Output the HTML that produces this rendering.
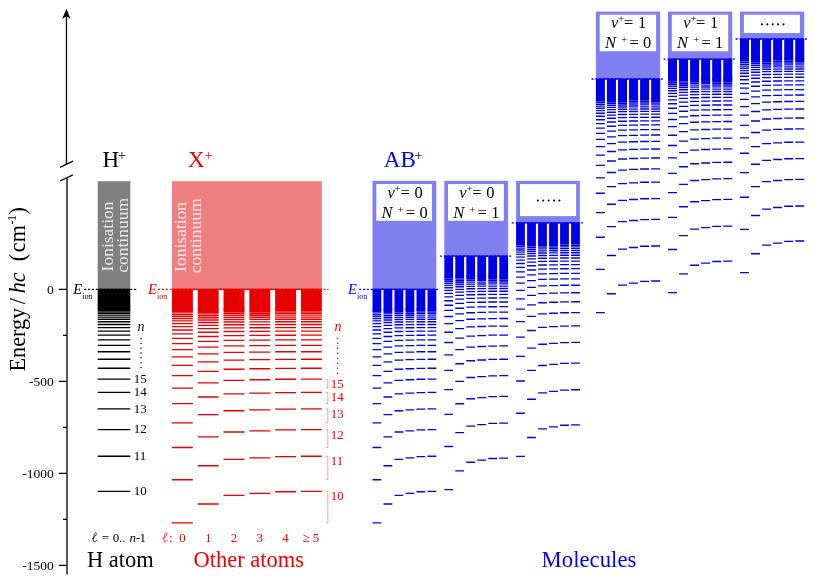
<!DOCTYPE html>
<html><head><meta charset="utf-8"><title>Rydberg level diagram</title>
<style>
html,body{margin:0;padding:0;background:#fff;}
body{width:814px;height:582px;overflow:hidden;font-family:"Liberation Serif",serif;}
svg{display:block;will-change:transform;}
text{font-family:"Liberation Serif",serif;}
.i{font-style:italic;}
</style></head><body>
<svg width="814" height="582" viewBox="0 0 814 582">
<rect x="0" y="0" width="814" height="582" fill="#fff"/>
<g>
<g stroke="#000" stroke-width="1.3" fill="none">
<path d="M66.45 16V164M67 178.2V574.6"/>
<path d="M60 167.3L73 161.2M60 181L73 174.9"/>
<path d="M58.8 289.4H67M58.8 381.4H67M58.8 473.4H67M58.8 565.4H67M63 335.4H67M63 427.4H67M63 519.4H67"/>
</g>
<path d="M66.45 8.8L70.5 19.1L66.45 16.3L62.2 19.1Z" fill="#000"/>
<g font-size="13.5" text-anchor="end" fill="#000">
<text x="53.8" y="293.7">0</text>
<text x="53.8" y="385.7">-500</text>
<text x="53.8" y="477.7">-1000</text>
<text x="53.8" y="569.7">-1500</text>
</g>
<text transform="translate(24.7 371.5) rotate(-90)" font-size="22.2" fill="#000"><tspan x="0">Energy</tspan><tspan x="67.2">/</tspan><tspan class="i" x="78.2">hc</tspan><tspan x="110.3">(</tspan><tspan x="119.3">cm</tspan><tspan font-size="12" dy="-8.4" x="147">-</tspan><tspan font-size="12" x="150.4">1</tspan><tspan dy="8.4" x="157">)</tspan></text>
<rect x="97.7" y="181.2" width="32.6" height="108.2" fill="#808080"/>
<g fill="#000"><rect x="97.7" y="288.72" width="32.6" height="21.07"/></g>
<path d="M97.7 491.32h32.6M97.7 456.27h32.6M97.7 429.62h32.6M97.7 408.88h32.6M97.7 392.42h32.6M97.7 379.14h32.6M97.7 368.27h32.6M97.7 359.27h32.6M97.7 351.72h32.6M97.7 345.33h32.6M97.7 339.88h32.6M97.7 335.19h32.6M97.7 331.12h32.6M97.7 327.57h32.6M97.7 324.45h32.6M97.7 321.71h32.6M97.7 319.27h32.6M97.7 317.1h32.6M97.7 315.15h32.6M97.7 313.41h32.6M97.7 311.84h32.6M97.7 310.41h32.6M97.7 309.12h32.6" stroke="#000" stroke-width="1.35" fill="none"/>
<text x="73.2" y="293.8" font-size="14.5" class="i" fill="#000">E</text>
<text x="82.2" y="299" font-size="8.2" fill="#000">ion</text>
<g font-size="13" fill="#000">
<text x="133.8" y="495.02">10</text>
<text x="133.8" y="459.97">11</text>
<text x="133.8" y="433.32">12</text>
<text x="133.8" y="412.58">13</text>
<text x="133.8" y="396.12">14</text>
<text x="133.8" y="382.84">15</text>
<text x="137.6" y="331" class="i" font-size="14">n</text>
</g>
<path d="M141 338.6V368.5" stroke="#000" stroke-width="1.5" stroke-linecap="round" stroke-dasharray="0.01 4.8" fill="none"/>
<text y="167.3" font-size="23" fill="#000"><tspan x="102.4">H</tspan><tspan font-size="14" dy="-7.6" x="118">+</tspan></text>
<text x="86.9" y="567" font-size="22.5" fill="#000">H atom</text>
<path transform="translate(91.8 541.9)" d="M0.2,-3.2C2.6,-4.2 5,-7.2 4.6,-8.6C4.3,-9.6 3.2,-9.2 2.6,-7.6C1.8,-5.4 1.2,-2.4 1.6,-0.9C2,0.5 3.8,0 5.2,-1.8" stroke="#000" stroke-width="0.75" fill="none"/>
<text y="541.7" font-size="13" fill="#000"><tspan x="101.8">=</tspan><tspan x="112.7">0</tspan><tspan x="119.1">..</tspan><tspan x="129.6" class="i">n</tspan><tspan x="136">-</tspan><tspan x="139.5">1</tspan></text>
<g font-size="17.5" fill="#fff" fill-opacity="0.8">
<text transform="translate(113.4 271.4) rotate(-90)">Ionisation</text>
<text transform="translate(128.3 272.8) rotate(-90)">continuum</text>
</g>
<rect x="171.95" y="181.2" width="149.9" height="108.2" fill="#f08080"/>
<g fill="#e60000"><rect x="192.65" y="288.65" width="5.3" height="1.3"/><rect x="171.95" y="288.72" width="20.9" height="21.96"/><rect x="218.45" y="288.65" width="5.3" height="1.3"/><rect x="197.75" y="288.72" width="20.9" height="21.44"/><rect x="244.25" y="288.65" width="5.3" height="1.3"/><rect x="223.55" y="288.72" width="20.9" height="21.19"/><rect x="270.05" y="288.65" width="5.3" height="1.3"/><rect x="249.35" y="288.72" width="20.9" height="21.13"/><rect x="295.85" y="288.65" width="5.3" height="1.3"/><rect x="275.15" y="288.72" width="20.9" height="21.08"/><rect x="300.95" y="288.72" width="20.9" height="21.07"/></g>
<path d="M171.95 522.86h20.9M171.95 479.73h20.9M171.95 447.53h20.9M171.95 422.86h20.9M171.95 403.55h20.9M171.95 388.14h20.9M171.95 375.66h20.9M171.95 365.4h20.9M171.95 356.87h20.9M171.95 349.69h20.9M171.95 343.61h20.9M171.95 338.4h20.9M171.95 333.91h20.9M171.95 330h20.9M171.95 326.59h20.9M171.95 323.59h20.9M171.95 320.94h20.9M171.95 318.59h20.9M171.95 316.49h20.9M171.95 314.61h20.9M171.95 312.92h20.9M171.95 311.39h20.9M171.95 310.01h20.9M197.75 504h20.9M197.75 465.76h20.9M197.75 436.9h20.9M197.75 414.59h20.9M197.75 396.98h20.9M197.75 382.84h20.9M197.75 371.32h20.9M197.75 361.8h20.9M197.75 353.85h20.9M197.75 347.14h20.9M197.75 341.43h20.9M197.75 336.52h20.9M197.75 332.28h20.9M197.75 328.58h20.9M197.75 325.35h20.9M197.75 322.5h20.9M197.75 319.97h20.9M197.75 317.72h20.9M197.75 315.72h20.9M197.75 313.91h20.9M197.75 312.29h20.9M197.75 310.82h20.9M197.75 309.49h20.9M223.55 495.42h20.9M223.55 459.35h20.9M223.55 431.99h20.9M223.55 410.74h20.9M223.55 393.91h20.9M223.55 380.35h20.9M223.55 369.27h20.9M223.55 360.1h20.9M223.55 352.42h20.9M223.55 345.93h20.9M223.55 340.39h20.9M223.55 335.63h20.9M223.55 331.5h20.9M223.55 327.9h20.9M223.55 324.75h20.9M223.55 321.97h20.9M223.55 319.5h20.9M223.55 317.3h20.9M223.55 315.34h20.9M223.55 313.58h20.9M223.55 311.99h20.9M223.55 310.55h20.9M223.55 309.24h20.9M249.35 493.35h20.9M249.35 457.8h20.9M249.35 430.8h20.9M249.35 409.8h20.9M249.35 393.16h20.9M249.35 379.74h20.9M249.35 368.77h20.9M249.35 359.68h20.9M249.35 352.07h20.9M249.35 345.63h20.9M249.35 340.13h20.9M249.35 335.4h20.9M249.35 331.31h20.9M249.35 327.74h20.9M249.35 324.6h20.9M249.35 321.84h20.9M249.35 319.38h20.9M249.35 317.2h20.9M249.35 315.25h20.9M249.35 313.49h20.9M249.35 311.91h20.9M249.35 310.48h20.9M249.35 309.18h20.9M275.15 491.72h20.9M275.15 456.58h20.9M275.15 429.85h20.9M275.15 409.06h20.9M275.15 392.57h20.9M275.15 379.26h20.9M275.15 368.37h20.9M275.15 359.35h20.9M275.15 351.79h20.9M275.15 345.39h20.9M275.15 339.93h20.9M275.15 335.23h20.9M275.15 331.16h20.9M275.15 327.6h20.9M275.15 324.48h20.9M275.15 321.73h20.9M275.15 319.29h20.9M275.15 317.12h20.9M275.15 315.17h20.9M275.15 313.43h20.9M275.15 311.85h20.9M275.15 310.42h20.9M275.15 309.13h20.9M300.95 491.32h20.9M300.95 456.27h20.9M300.95 429.62h20.9M300.95 408.88h20.9M300.95 392.42h20.9M300.95 379.14h20.9M300.95 368.27h20.9M300.95 359.27h20.9M300.95 351.72h20.9M300.95 345.33h20.9M300.95 339.88h20.9M300.95 335.19h20.9M300.95 331.12h20.9M300.95 327.57h20.9M300.95 324.45h20.9M300.95 321.71h20.9M300.95 319.27h20.9M300.95 317.1h20.9M300.95 315.15h20.9M300.95 313.41h20.9M300.95 311.84h20.9M300.95 310.41h20.9M300.95 309.12h20.9" stroke="#e60000" stroke-width="1.35" fill="none"/>
<text x="147.9" y="293.8" font-size="14.5" class="i" fill="#e60000">E</text>
<text x="156.9" y="299" font-size="8.2" fill="#e60000">ion</text>
<g font-size="13" fill="#e60000">
<text x="330.8" y="500.32">10</text>
<text x="330.8" y="465.27">11</text>
<text x="330.8" y="438.62">12</text>
<text x="330.8" y="417.88">13</text>
<text x="330.8" y="401.42">14</text>
<text x="330.8" y="388.14">15</text>
<text x="334.6" y="331" class="i" font-size="14">n</text>
</g>
<path d="M325.6 491.32H327.8V522.86H325.6M325.6 456.27H327.8V479.73H325.6M325.6 429.62H327.8V447.53H325.6M325.6 408.88H327.8V422.86H325.6M325.6 392.42H327.8V403.55H325.6M325.6 379.14H327.8V388.14H325.6" stroke="#e60000" stroke-opacity="0.6" stroke-width="0.6" fill="none"/>
<path d="M337.6 338.3V374" stroke="#e60000" stroke-width="1.5" stroke-linecap="round" stroke-dasharray="0.01 5" fill="none"/>
<text y="167.3" font-size="23" fill="#e60000"><tspan x="187.9">X</tspan><tspan font-size="14" dy="-7.6" x="204.8">+</tspan></text>
<text x="193.5" y="567" font-size="22.5" fill="#e60000">Other atoms</text>
<path transform="translate(162.4 541.9)" d="M0.2,-3.2C2.6,-4.2 5,-7.2 4.6,-8.6C4.3,-9.6 3.2,-9.2 2.6,-7.6C1.8,-5.4 1.2,-2.4 1.6,-0.9C2,0.5 3.8,0 5.2,-1.8" stroke="#e60000" stroke-width="0.75" fill="none"/>
<g font-size="13" fill="#e60000" text-anchor="middle">
<text x="170.7" y="541.7">:</text>
<text x="182.4" y="541.7">0</text>
<text x="208.2" y="541.7">1</text>
<text x="234" y="541.7">2</text>
<text x="259.8" y="541.7">3</text>
<text x="285.6" y="541.7">4</text>
<text x="310.9" y="541.7">&#8805; 5</text>
</g>
<g font-size="17.5" fill="#fff" fill-opacity="0.8">
<text transform="translate(186.1 271.9) rotate(-90)">Ionisation</text>
<text transform="translate(201.4 273.3) rotate(-90)">continuum</text>
</g>
<rect x="372.5" y="180.85" width="63.8" height="108.55" fill="#8080f0"/>
<rect x="376.3" y="184.05" width="55.6" height="36.75" fill="#fff"/>
<g font-size="16.5" fill="#000">
<text y="197.9"><tspan class="i" x="387.5">v</tspan><tspan font-size="11" dy="-5.6" x="394.5">+</tspan><tspan dy="5.6" x="400.4">=</tspan><tspan x="414.4">0</tspan></text>
<text y="218.1"><tspan class="i" x="381.4">N</tspan><tspan font-size="11" dy="-5.2" x="397.5">+</tspan><tspan dy="5.2" x="405.8">=</tspan><tspan x="419.4">0</tspan></text>
</g>
<rect x="444.3" y="180.85" width="63.8" height="75.35" fill="#8080f0"/>
<rect x="448" y="184.05" width="55.85" height="36.75" fill="#fff"/>
<g font-size="16.5" fill="#000">
<text y="197.9"><tspan class="i" x="459.3">v</tspan><tspan font-size="11" dy="-5.6" x="466.3">+</tspan><tspan dy="5.6" x="472.2">=</tspan><tspan x="486.2">0</tspan></text>
<text y="218.1"><tspan class="i" x="453.2">N</tspan><tspan font-size="11" dy="-5.2" x="469.3">+</tspan><tspan dy="5.2" x="477.6">=</tspan><tspan x="491.2">1</tspan></text>
</g>
<rect x="516.1" y="180.85" width="63.8" height="42.05" fill="#8080f0"/>
<rect x="520" y="184.05" width="56.1" height="32.05" fill="#fff"/>
<g fill="#000"><circle cx="537.8" cy="200.57" r="1.05"/><circle cx="543.2" cy="200.57" r="1.05"/><circle cx="548.6" cy="200.57" r="1.05"/><circle cx="554" cy="200.57" r="1.05"/><circle cx="559.4" cy="200.57" r="1.05"/></g>
<rect x="595.9" y="11.6" width="64.25" height="67.5" fill="#8080f0"/>
<rect x="599.7" y="14.7" width="56.4" height="36.5" fill="#fff"/>
<g font-size="16.5" fill="#000">
<text y="27.9"><tspan class="i" x="611.12">v</tspan><tspan font-size="11" dy="-5.6" x="618.12">+</tspan><tspan dy="5.6" x="624.02">=</tspan><tspan x="638.02">1</tspan></text>
<text y="48.1"><tspan class="i" x="605.02">N</tspan><tspan font-size="11" dy="-5.2" x="621.12">+</tspan><tspan dy="5.2" x="629.42">=</tspan><tspan x="643.02">0</tspan></text>
</g>
<rect x="668" y="11.6" width="64.25" height="47.6" fill="#8080f0"/>
<rect x="671.8" y="14.7" width="56.4" height="36.5" fill="#fff"/>
<g font-size="16.5" fill="#000">
<text y="27.9"><tspan class="i" x="683.23">v</tspan><tspan font-size="11" dy="-5.6" x="690.23">+</tspan><tspan dy="5.6" x="696.12">=</tspan><tspan x="710.12">1</tspan></text>
<text y="48.1"><tspan class="i" x="677.12">N</tspan><tspan font-size="11" dy="-5.2" x="693.23">+</tspan><tspan dy="5.2" x="701.52">=</tspan><tspan x="715.12">1</tspan></text>
</g>
<rect x="740" y="11.6" width="64.25" height="27.5" fill="#8080f0"/>
<rect x="743.9" y="14.7" width="56" height="18.3" fill="#fff"/>
<g fill="#000"><circle cx="761.93" cy="24.35" r="1.05"/><circle cx="767.33" cy="24.35" r="1.05"/><circle cx="772.73" cy="24.35" r="1.05"/><circle cx="778.12" cy="24.35" r="1.05"/><circle cx="783.52" cy="24.35" r="1.05"/></g>
<g fill="#0000e6"><rect x="372.5" y="288.72" width="8.8" height="21.96"/><rect x="381.1" y="288.65" width="2.6" height="1.3"/><rect x="383.5" y="288.72" width="8.8" height="21.44"/><rect x="392.1" y="288.65" width="2.6" height="1.3"/><rect x="394.5" y="288.72" width="8.8" height="21.19"/><rect x="403.1" y="288.65" width="2.6" height="1.3"/><rect x="405.5" y="288.72" width="8.8" height="21.13"/><rect x="414.1" y="288.65" width="2.6" height="1.3"/><rect x="416.5" y="288.72" width="8.8" height="21.08"/><rect x="425.1" y="288.65" width="2.6" height="1.3"/><rect x="427.5" y="288.72" width="8.8" height="21.07"/><rect x="444.3" y="255.52" width="8.8" height="21.96"/><rect x="452.9" y="255.45" width="2.6" height="1.3"/><rect x="455.3" y="255.52" width="8.8" height="21.44"/><rect x="463.9" y="255.45" width="2.6" height="1.3"/><rect x="466.3" y="255.52" width="8.8" height="21.19"/><rect x="474.9" y="255.45" width="2.6" height="1.3"/><rect x="477.3" y="255.52" width="8.8" height="21.13"/><rect x="485.9" y="255.45" width="2.6" height="1.3"/><rect x="488.3" y="255.52" width="8.8" height="21.08"/><rect x="496.9" y="255.45" width="2.6" height="1.3"/><rect x="499.3" y="255.52" width="8.8" height="21.07"/><rect x="516.1" y="222.22" width="8.8" height="21.96"/><rect x="524.7" y="222.15" width="2.6" height="1.3"/><rect x="527.1" y="222.22" width="8.8" height="21.44"/><rect x="535.7" y="222.15" width="2.6" height="1.3"/><rect x="538.1" y="222.22" width="8.8" height="21.19"/><rect x="546.7" y="222.15" width="2.6" height="1.3"/><rect x="549.1" y="222.22" width="8.8" height="21.13"/><rect x="557.7" y="222.15" width="2.6" height="1.3"/><rect x="560.1" y="222.22" width="8.8" height="21.08"/><rect x="568.7" y="222.15" width="2.6" height="1.3"/><rect x="571.1" y="222.22" width="8.8" height="21.07"/><rect x="595.9" y="78.42" width="9" height="21.96"/><rect x="604.7" y="78.35" width="2.45" height="1.3"/><rect x="606.95" y="78.42" width="9" height="21.44"/><rect x="615.75" y="78.35" width="2.45" height="1.3"/><rect x="618" y="78.42" width="9" height="21.19"/><rect x="626.8" y="78.35" width="2.45" height="1.3"/><rect x="629.05" y="78.42" width="9" height="21.13"/><rect x="637.85" y="78.35" width="2.45" height="1.3"/><rect x="640.1" y="78.42" width="9" height="21.08"/><rect x="648.9" y="78.35" width="2.45" height="1.3"/><rect x="651.15" y="78.42" width="9" height="21.07"/><rect x="668" y="58.53" width="9" height="21.96"/><rect x="676.8" y="58.45" width="2.45" height="1.3"/><rect x="679.05" y="58.53" width="9" height="21.44"/><rect x="687.85" y="58.45" width="2.45" height="1.3"/><rect x="690.1" y="58.53" width="9" height="21.19"/><rect x="698.9" y="58.45" width="2.45" height="1.3"/><rect x="701.15" y="58.53" width="9" height="21.13"/><rect x="709.95" y="58.45" width="2.45" height="1.3"/><rect x="712.2" y="58.53" width="9" height="21.08"/><rect x="721" y="58.45" width="2.45" height="1.3"/><rect x="723.25" y="58.53" width="9" height="21.07"/><rect x="740" y="38.43" width="9" height="21.96"/><rect x="748.8" y="38.35" width="2.45" height="1.3"/><rect x="751.05" y="38.43" width="9" height="21.44"/><rect x="759.85" y="38.35" width="2.45" height="1.3"/><rect x="762.1" y="38.43" width="9" height="21.19"/><rect x="770.9" y="38.35" width="2.45" height="1.3"/><rect x="773.15" y="38.43" width="9" height="21.13"/><rect x="781.95" y="38.35" width="2.45" height="1.3"/><rect x="784.2" y="38.43" width="9" height="21.08"/><rect x="793" y="38.35" width="2.45" height="1.3"/><rect x="795.25" y="38.43" width="9" height="21.07"/></g>
<path d="M372.5 522.86h8.8M372.5 479.73h8.8M372.5 447.53h8.8M372.5 422.86h8.8M372.5 403.55h8.8M372.5 388.14h8.8M372.5 375.66h8.8M372.5 365.4h8.8M372.5 356.87h8.8M372.5 349.69h8.8M372.5 343.61h8.8M372.5 338.4h8.8M372.5 333.91h8.8M372.5 330h8.8M372.5 326.59h8.8M372.5 323.59h8.8M372.5 320.94h8.8M372.5 318.59h8.8M372.5 316.49h8.8M372.5 314.61h8.8M372.5 312.92h8.8M372.5 311.39h8.8M372.5 310.01h8.8M383.5 504h8.8M383.5 465.76h8.8M383.5 436.9h8.8M383.5 414.59h8.8M383.5 396.98h8.8M383.5 382.84h8.8M383.5 371.32h8.8M383.5 361.8h8.8M383.5 353.85h8.8M383.5 347.14h8.8M383.5 341.43h8.8M383.5 336.52h8.8M383.5 332.28h8.8M383.5 328.58h8.8M383.5 325.35h8.8M383.5 322.5h8.8M383.5 319.97h8.8M383.5 317.72h8.8M383.5 315.72h8.8M383.5 313.91h8.8M383.5 312.29h8.8M383.5 310.82h8.8M383.5 309.49h8.8M394.5 495.42h8.8M394.5 459.35h8.8M394.5 431.99h8.8M394.5 410.74h8.8M394.5 393.91h8.8M394.5 380.35h8.8M394.5 369.27h8.8M394.5 360.1h8.8M394.5 352.42h8.8M394.5 345.93h8.8M394.5 340.39h8.8M394.5 335.63h8.8M394.5 331.5h8.8M394.5 327.9h8.8M394.5 324.75h8.8M394.5 321.97h8.8M394.5 319.5h8.8M394.5 317.3h8.8M394.5 315.34h8.8M394.5 313.58h8.8M394.5 311.99h8.8M394.5 310.55h8.8M394.5 309.24h8.8M405.5 493.35h8.8M405.5 457.8h8.8M405.5 430.8h8.8M405.5 409.8h8.8M405.5 393.16h8.8M405.5 379.74h8.8M405.5 368.77h8.8M405.5 359.68h8.8M405.5 352.07h8.8M405.5 345.63h8.8M405.5 340.13h8.8M405.5 335.4h8.8M405.5 331.31h8.8M405.5 327.74h8.8M405.5 324.6h8.8M405.5 321.84h8.8M405.5 319.38h8.8M405.5 317.2h8.8M405.5 315.25h8.8M405.5 313.49h8.8M405.5 311.91h8.8M405.5 310.48h8.8M405.5 309.18h8.8M416.5 491.72h8.8M416.5 456.58h8.8M416.5 429.85h8.8M416.5 409.06h8.8M416.5 392.57h8.8M416.5 379.26h8.8M416.5 368.37h8.8M416.5 359.35h8.8M416.5 351.79h8.8M416.5 345.39h8.8M416.5 339.93h8.8M416.5 335.23h8.8M416.5 331.16h8.8M416.5 327.6h8.8M416.5 324.48h8.8M416.5 321.73h8.8M416.5 319.29h8.8M416.5 317.12h8.8M416.5 315.17h8.8M416.5 313.43h8.8M416.5 311.85h8.8M416.5 310.42h8.8M416.5 309.13h8.8M427.5 491.32h8.8M427.5 456.27h8.8M427.5 429.62h8.8M427.5 408.88h8.8M427.5 392.42h8.8M427.5 379.14h8.8M427.5 368.27h8.8M427.5 359.27h8.8M427.5 351.72h8.8M427.5 345.33h8.8M427.5 339.88h8.8M427.5 335.19h8.8M427.5 331.12h8.8M427.5 327.57h8.8M427.5 324.45h8.8M427.5 321.71h8.8M427.5 319.27h8.8M427.5 317.1h8.8M427.5 315.15h8.8M427.5 313.41h8.8M427.5 311.84h8.8M427.5 310.41h8.8M427.5 309.12h8.8M444.3 489.66h8.8M444.3 446.53h8.8M444.3 414.33h8.8M444.3 389.66h8.8M444.3 370.35h8.8M444.3 354.94h8.8M444.3 342.46h8.8M444.3 332.2h8.8M444.3 323.67h8.8M444.3 316.49h8.8M444.3 310.41h8.8M444.3 305.2h8.8M444.3 300.71h8.8M444.3 296.8h8.8M444.3 293.39h8.8M444.3 290.39h8.8M444.3 287.74h8.8M444.3 285.39h8.8M444.3 283.29h8.8M444.3 281.41h8.8M444.3 279.72h8.8M444.3 278.19h8.8M444.3 276.81h8.8M455.3 470.8h8.8M455.3 432.56h8.8M455.3 403.7h8.8M455.3 381.39h8.8M455.3 363.78h8.8M455.3 349.64h8.8M455.3 338.12h8.8M455.3 328.6h8.8M455.3 320.65h8.8M455.3 313.94h8.8M455.3 308.23h8.8M455.3 303.32h8.8M455.3 299.08h8.8M455.3 295.38h8.8M455.3 292.15h8.8M455.3 289.3h8.8M455.3 286.77h8.8M455.3 284.52h8.8M455.3 282.52h8.8M455.3 280.71h8.8M455.3 279.09h8.8M455.3 277.62h8.8M455.3 276.29h8.8M466.3 462.22h8.8M466.3 426.15h8.8M466.3 398.79h8.8M466.3 377.54h8.8M466.3 360.71h8.8M466.3 347.15h8.8M466.3 336.07h8.8M466.3 326.9h8.8M466.3 319.22h8.8M466.3 312.73h8.8M466.3 307.19h8.8M466.3 302.43h8.8M466.3 298.3h8.8M466.3 294.7h8.8M466.3 291.55h8.8M466.3 288.77h8.8M466.3 286.3h8.8M466.3 284.1h8.8M466.3 282.14h8.8M466.3 280.38h8.8M466.3 278.79h8.8M466.3 277.35h8.8M466.3 276.04h8.8M477.3 460.15h8.8M477.3 424.6h8.8M477.3 397.6h8.8M477.3 376.6h8.8M477.3 359.96h8.8M477.3 346.54h8.8M477.3 335.57h8.8M477.3 326.48h8.8M477.3 318.87h8.8M477.3 312.43h8.8M477.3 306.93h8.8M477.3 302.2h8.8M477.3 298.11h8.8M477.3 294.54h8.8M477.3 291.4h8.8M477.3 288.64h8.8M477.3 286.18h8.8M477.3 284h8.8M477.3 282.05h8.8M477.3 280.29h8.8M477.3 278.71h8.8M477.3 277.28h8.8M477.3 275.98h8.8M488.3 458.52h8.8M488.3 423.38h8.8M488.3 396.65h8.8M488.3 375.86h8.8M488.3 359.37h8.8M488.3 346.06h8.8M488.3 335.17h8.8M488.3 326.15h8.8M488.3 318.59h8.8M488.3 312.19h8.8M488.3 306.73h8.8M488.3 302.03h8.8M488.3 297.96h8.8M488.3 294.4h8.8M488.3 291.28h8.8M488.3 288.53h8.8M488.3 286.09h8.8M488.3 283.92h8.8M488.3 281.97h8.8M488.3 280.23h8.8M488.3 278.65h8.8M488.3 277.22h8.8M488.3 275.93h8.8M499.3 458.12h8.8M499.3 423.07h8.8M499.3 396.42h8.8M499.3 375.68h8.8M499.3 359.22h8.8M499.3 345.94h8.8M499.3 335.07h8.8M499.3 326.07h8.8M499.3 318.52h8.8M499.3 312.13h8.8M499.3 306.68h8.8M499.3 301.99h8.8M499.3 297.92h8.8M499.3 294.37h8.8M499.3 291.25h8.8M499.3 288.51h8.8M499.3 286.07h8.8M499.3 283.9h8.8M499.3 281.95h8.8M499.3 280.21h8.8M499.3 278.64h8.8M499.3 277.21h8.8M499.3 275.92h8.8M516.1 456.36h8.8M516.1 413.23h8.8M516.1 381.03h8.8M516.1 356.36h8.8M516.1 337.05h8.8M516.1 321.64h8.8M516.1 309.16h8.8M516.1 298.9h8.8M516.1 290.37h8.8M516.1 283.19h8.8M516.1 277.11h8.8M516.1 271.9h8.8M516.1 267.41h8.8M516.1 263.5h8.8M516.1 260.09h8.8M516.1 257.09h8.8M516.1 254.44h8.8M516.1 252.09h8.8M516.1 249.99h8.8M516.1 248.11h8.8M516.1 246.42h8.8M516.1 244.89h8.8M516.1 243.51h8.8M527.1 437.5h8.8M527.1 399.26h8.8M527.1 370.4h8.8M527.1 348.09h8.8M527.1 330.48h8.8M527.1 316.34h8.8M527.1 304.82h8.8M527.1 295.3h8.8M527.1 287.35h8.8M527.1 280.64h8.8M527.1 274.93h8.8M527.1 270.02h8.8M527.1 265.78h8.8M527.1 262.08h8.8M527.1 258.85h8.8M527.1 256h8.8M527.1 253.47h8.8M527.1 251.22h8.8M527.1 249.22h8.8M527.1 247.41h8.8M527.1 245.79h8.8M527.1 244.32h8.8M527.1 242.99h8.8M538.1 428.92h8.8M538.1 392.85h8.8M538.1 365.49h8.8M538.1 344.24h8.8M538.1 327.41h8.8M538.1 313.85h8.8M538.1 302.77h8.8M538.1 293.6h8.8M538.1 285.92h8.8M538.1 279.43h8.8M538.1 273.89h8.8M538.1 269.13h8.8M538.1 265h8.8M538.1 261.4h8.8M538.1 258.25h8.8M538.1 255.47h8.8M538.1 253h8.8M538.1 250.8h8.8M538.1 248.84h8.8M538.1 247.08h8.8M538.1 245.49h8.8M538.1 244.05h8.8M538.1 242.74h8.8M549.1 426.85h8.8M549.1 391.3h8.8M549.1 364.3h8.8M549.1 343.3h8.8M549.1 326.66h8.8M549.1 313.24h8.8M549.1 302.27h8.8M549.1 293.18h8.8M549.1 285.57h8.8M549.1 279.13h8.8M549.1 273.63h8.8M549.1 268.9h8.8M549.1 264.81h8.8M549.1 261.24h8.8M549.1 258.1h8.8M549.1 255.34h8.8M549.1 252.88h8.8M549.1 250.7h8.8M549.1 248.75h8.8M549.1 246.99h8.8M549.1 245.41h8.8M549.1 243.98h8.8M549.1 242.68h8.8M560.1 425.22h8.8M560.1 390.08h8.8M560.1 363.35h8.8M560.1 342.56h8.8M560.1 326.07h8.8M560.1 312.76h8.8M560.1 301.87h8.8M560.1 292.85h8.8M560.1 285.29h8.8M560.1 278.89h8.8M560.1 273.43h8.8M560.1 268.73h8.8M560.1 264.66h8.8M560.1 261.1h8.8M560.1 257.98h8.8M560.1 255.23h8.8M560.1 252.79h8.8M560.1 250.62h8.8M560.1 248.67h8.8M560.1 246.93h8.8M560.1 245.35h8.8M560.1 243.92h8.8M560.1 242.63h8.8M571.1 424.82h8.8M571.1 389.77h8.8M571.1 363.12h8.8M571.1 342.38h8.8M571.1 325.92h8.8M571.1 312.64h8.8M571.1 301.77h8.8M571.1 292.77h8.8M571.1 285.22h8.8M571.1 278.83h8.8M571.1 273.38h8.8M571.1 268.69h8.8M571.1 264.62h8.8M571.1 261.07h8.8M571.1 257.95h8.8M571.1 255.21h8.8M571.1 252.77h8.8M571.1 250.6h8.8M571.1 248.65h8.8M571.1 246.91h8.8M571.1 245.34h8.8M571.1 243.91h8.8M571.1 242.62h8.8M595.9 312.56h9M595.9 269.43h9M595.9 237.23h9M595.9 212.56h9M595.9 193.25h9M595.9 177.84h9M595.9 165.36h9M595.9 155.1h9M595.9 146.57h9M595.9 139.39h9M595.9 133.31h9M595.9 128.1h9M595.9 123.61h9M595.9 119.7h9M595.9 116.29h9M595.9 113.29h9M595.9 110.64h9M595.9 108.29h9M595.9 106.19h9M595.9 104.31h9M595.9 102.62h9M595.9 101.09h9M595.9 99.71h9M606.95 293.7h9M606.95 255.46h9M606.95 226.6h9M606.95 204.29h9M606.95 186.68h9M606.95 172.54h9M606.95 161.02h9M606.95 151.5h9M606.95 143.55h9M606.95 136.84h9M606.95 131.13h9M606.95 126.22h9M606.95 121.98h9M606.95 118.28h9M606.95 115.05h9M606.95 112.2h9M606.95 109.67h9M606.95 107.42h9M606.95 105.42h9M606.95 103.61h9M606.95 101.99h9M606.95 100.52h9M606.95 99.19h9M618 285.12h9M618 249.05h9M618 221.69h9M618 200.44h9M618 183.61h9M618 170.05h9M618 158.97h9M618 149.8h9M618 142.12h9M618 135.63h9M618 130.09h9M618 125.33h9M618 121.2h9M618 117.6h9M618 114.45h9M618 111.67h9M618 109.2h9M618 107h9M618 105.04h9M618 103.28h9M618 101.69h9M618 100.25h9M618 98.94h9M629.05 283.05h9M629.05 247.5h9M629.05 220.5h9M629.05 199.5h9M629.05 182.86h9M629.05 169.44h9M629.05 158.47h9M629.05 149.38h9M629.05 141.77h9M629.05 135.33h9M629.05 129.83h9M629.05 125.1h9M629.05 121.01h9M629.05 117.44h9M629.05 114.3h9M629.05 111.54h9M629.05 109.08h9M629.05 106.9h9M629.05 104.95h9M629.05 103.19h9M629.05 101.61h9M629.05 100.18h9M629.05 98.88h9M640.1 281.42h9M640.1 246.28h9M640.1 219.55h9M640.1 198.76h9M640.1 182.27h9M640.1 168.96h9M640.1 158.07h9M640.1 149.05h9M640.1 141.49h9M640.1 135.09h9M640.1 129.63h9M640.1 124.93h9M640.1 120.86h9M640.1 117.3h9M640.1 114.18h9M640.1 111.43h9M640.1 108.99h9M640.1 106.82h9M640.1 104.87h9M640.1 103.13h9M640.1 101.55h9M640.1 100.12h9M640.1 98.83h9M651.15 281.02h9M651.15 245.97h9M651.15 219.32h9M651.15 198.58h9M651.15 182.12h9M651.15 168.84h9M651.15 157.97h9M651.15 148.97h9M651.15 141.42h9M651.15 135.03h9M651.15 129.58h9M651.15 124.89h9M651.15 120.82h9M651.15 117.27h9M651.15 114.15h9M651.15 111.41h9M651.15 108.97h9M651.15 106.8h9M651.15 104.85h9M651.15 103.11h9M651.15 101.54h9M651.15 100.11h9M651.15 98.82h9M668 292.66h9M668 249.53h9M668 217.33h9M668 192.66h9M668 173.35h9M668 157.94h9M668 145.46h9M668 135.2h9M668 126.67h9M668 119.49h9M668 113.41h9M668 108.2h9M668 103.71h9M668 99.8h9M668 96.39h9M668 93.39h9M668 90.74h9M668 88.39h9M668 86.29h9M668 84.41h9M668 82.72h9M668 81.19h9M668 79.81h9M679.05 273.8h9M679.05 235.56h9M679.05 206.7h9M679.05 184.39h9M679.05 166.78h9M679.05 152.64h9M679.05 141.12h9M679.05 131.6h9M679.05 123.65h9M679.05 116.94h9M679.05 111.23h9M679.05 106.32h9M679.05 102.08h9M679.05 98.38h9M679.05 95.15h9M679.05 92.3h9M679.05 89.77h9M679.05 87.52h9M679.05 85.52h9M679.05 83.71h9M679.05 82.09h9M679.05 80.62h9M679.05 79.29h9M690.1 265.22h9M690.1 229.15h9M690.1 201.79h9M690.1 180.54h9M690.1 163.71h9M690.1 150.15h9M690.1 139.07h9M690.1 129.9h9M690.1 122.22h9M690.1 115.73h9M690.1 110.19h9M690.1 105.43h9M690.1 101.3h9M690.1 97.7h9M690.1 94.55h9M690.1 91.77h9M690.1 89.3h9M690.1 87.1h9M690.1 85.14h9M690.1 83.38h9M690.1 81.79h9M690.1 80.35h9M690.1 79.04h9M701.15 263.15h9M701.15 227.6h9M701.15 200.6h9M701.15 179.6h9M701.15 162.96h9M701.15 149.54h9M701.15 138.57h9M701.15 129.48h9M701.15 121.87h9M701.15 115.43h9M701.15 109.93h9M701.15 105.2h9M701.15 101.11h9M701.15 97.54h9M701.15 94.4h9M701.15 91.64h9M701.15 89.18h9M701.15 87h9M701.15 85.05h9M701.15 83.29h9M701.15 81.71h9M701.15 80.28h9M701.15 78.98h9M712.2 261.52h9M712.2 226.38h9M712.2 199.65h9M712.2 178.86h9M712.2 162.37h9M712.2 149.06h9M712.2 138.17h9M712.2 129.15h9M712.2 121.59h9M712.2 115.19h9M712.2 109.73h9M712.2 105.03h9M712.2 100.96h9M712.2 97.4h9M712.2 94.28h9M712.2 91.53h9M712.2 89.09h9M712.2 86.92h9M712.2 84.97h9M712.2 83.23h9M712.2 81.65h9M712.2 80.22h9M712.2 78.93h9M723.25 261.12h9M723.25 226.07h9M723.25 199.42h9M723.25 178.68h9M723.25 162.22h9M723.25 148.94h9M723.25 138.07h9M723.25 129.07h9M723.25 121.52h9M723.25 115.13h9M723.25 109.68h9M723.25 104.99h9M723.25 100.92h9M723.25 97.37h9M723.25 94.25h9M723.25 91.51h9M723.25 89.07h9M723.25 86.9h9M723.25 84.95h9M723.25 83.21h9M723.25 81.64h9M723.25 80.21h9M723.25 78.92h9M740 272.56h9M740 229.43h9M740 197.23h9M740 172.56h9M740 153.25h9M740 137.84h9M740 125.36h9M740 115.1h9M740 106.57h9M740 99.39h9M740 93.31h9M740 88.1h9M740 83.61h9M740 79.7h9M740 76.29h9M740 73.29h9M740 70.64h9M740 68.29h9M740 66.19h9M740 64.31h9M740 62.62h9M740 61.09h9M740 59.71h9M751.05 253.7h9M751.05 215.46h9M751.05 186.6h9M751.05 164.29h9M751.05 146.68h9M751.05 132.54h9M751.05 121.02h9M751.05 111.5h9M751.05 103.55h9M751.05 96.84h9M751.05 91.13h9M751.05 86.22h9M751.05 81.98h9M751.05 78.28h9M751.05 75.05h9M751.05 72.2h9M751.05 69.67h9M751.05 67.42h9M751.05 65.42h9M751.05 63.61h9M751.05 61.99h9M751.05 60.52h9M751.05 59.19h9M762.1 245.12h9M762.1 209.05h9M762.1 181.69h9M762.1 160.44h9M762.1 143.61h9M762.1 130.05h9M762.1 118.97h9M762.1 109.8h9M762.1 102.12h9M762.1 95.63h9M762.1 90.09h9M762.1 85.33h9M762.1 81.2h9M762.1 77.6h9M762.1 74.45h9M762.1 71.67h9M762.1 69.2h9M762.1 67h9M762.1 65.04h9M762.1 63.28h9M762.1 61.69h9M762.1 60.25h9M762.1 58.94h9M773.15 243.05h9M773.15 207.5h9M773.15 180.5h9M773.15 159.5h9M773.15 142.86h9M773.15 129.44h9M773.15 118.47h9M773.15 109.38h9M773.15 101.77h9M773.15 95.33h9M773.15 89.83h9M773.15 85.1h9M773.15 81.01h9M773.15 77.44h9M773.15 74.3h9M773.15 71.54h9M773.15 69.08h9M773.15 66.9h9M773.15 64.95h9M773.15 63.19h9M773.15 61.61h9M773.15 60.18h9M773.15 58.88h9M784.2 241.42h9M784.2 206.28h9M784.2 179.55h9M784.2 158.76h9M784.2 142.27h9M784.2 128.96h9M784.2 118.07h9M784.2 109.05h9M784.2 101.49h9M784.2 95.09h9M784.2 89.63h9M784.2 84.93h9M784.2 80.86h9M784.2 77.3h9M784.2 74.18h9M784.2 71.43h9M784.2 68.99h9M784.2 66.82h9M784.2 64.87h9M784.2 63.13h9M784.2 61.55h9M784.2 60.12h9M784.2 58.83h9M795.25 241.02h9M795.25 205.97h9M795.25 179.32h9M795.25 158.58h9M795.25 142.12h9M795.25 128.84h9M795.25 117.97h9M795.25 108.97h9M795.25 101.42h9M795.25 95.03h9M795.25 89.58h9M795.25 84.89h9M795.25 80.82h9M795.25 77.27h9M795.25 74.15h9M795.25 71.41h9M795.25 68.97h9M795.25 66.8h9M795.25 64.85h9M795.25 63.11h9M795.25 61.54h9M795.25 60.11h9M795.25 58.82h9" stroke="#0000e6" stroke-width="1.35" fill="none"/>
<text x="347.9" y="293.8" font-size="14.5" class="i" fill="#0000e6">E</text>
<text x="356.9" y="299" font-size="8.2" fill="#0000e6">ion</text>
<text y="167.3" font-size="23" fill="#0000e6"><tspan x="383.8">AB</tspan><tspan font-size="14" dy="-7.6" x="414.4">+</tspan></text>
<text x="541.6" y="567" font-size="22.75" fill="#0000e6">Molecules</text>
<path d="M84.6 289.3H136.5" stroke="#000" stroke-width="1.3" stroke-linecap="round" stroke-dasharray="1.1 2.75" fill="none"/>
<path d="M158.5 289.3H328" stroke="#e60000" stroke-width="1.3" stroke-linecap="round" stroke-dasharray="1.1 2.75" fill="none"/>
<path d="M359.6 289.3H440.3M440.4 256.1H512.4M512.2 222.8H584.2M592 79H664.45M664.1 59.1H736.55M736.1 39H808.55" stroke="#0000e6" stroke-width="1.3" stroke-linecap="round" stroke-dasharray="1.1 2.75" fill="none"/>
</g>
</svg>
</body></html>
